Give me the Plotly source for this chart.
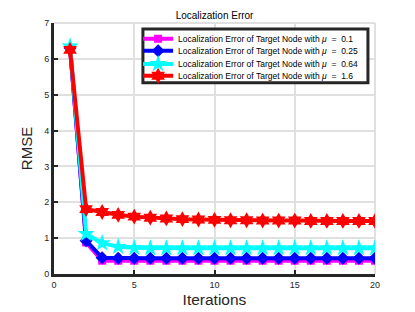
import plotly.graph_objects as go

iterations = list(range(1, 21))
err_mu_01 = [6.30, 0.88, 0.37, 0.37, 0.37, 0.37, 0.37, 0.37, 0.37, 0.37,
             0.37, 0.37, 0.37, 0.37, 0.37, 0.37, 0.37, 0.37, 0.37, 0.37]
err_mu_025 = [6.30, 0.93, 0.45, 0.44, 0.44, 0.44, 0.44, 0.44, 0.44, 0.44,
              0.44, 0.44, 0.44, 0.44, 0.44, 0.44, 0.44, 0.44, 0.44, 0.44]
err_mu_064 = [6.35, 1.12, 0.86, 0.76, 0.73, 0.72, 0.72, 0.72, 0.72, 0.72,
              0.72, 0.72, 0.72, 0.72, 0.72, 0.72, 0.72, 0.72, 0.72, 0.72]
err_mu_16 = [6.25, 1.81, 1.73, 1.65, 1.60, 1.57, 1.55, 1.53, 1.52, 1.51,
             1.50, 1.50, 1.49, 1.49, 1.49, 1.48, 1.48, 1.48, 1.48, 1.48]

mu_labels = ["0.1", "0.25", "0.64", "1.6"]
NB = "&nbsp;"
series = [
    (err_mu_01, "#ff00ff", "square", 8),
    (err_mu_025, "#0000ff", "diamond", 10),
    (err_mu_064, "#00ffff", "star", 13),
    (err_mu_16, "#ff0000", "hexagram", 12),
]
legend_names = ["legend", "legend2", "legend3", "legend4"]
legend_rows = [0.937, 0.889, 0.837, 0.790]

FONT = "Liberation Sans, Arial, sans-serif"

fig = go.Figure()
for (vals, color, sym, size), mu, lg in zip(series, mu_labels, legend_names):
    name = f"Localization Error of Target Node with{NB}<i>μ</i>{NB}{NB}={NB}{NB}{mu}"
    fig.add_trace(go.Scatter(
        x=iterations, y=vals, name=name, mode="lines+markers",
        line=dict(color=color, width=4),
        marker=dict(symbol=sym, size=size, color=color, line=dict(width=0)),
        legend=lg,
    ))

axis_font = dict(family=FONT, size=9, color="#262626")
layout_legends = {}
for lg, yc in zip(legend_names, legend_rows):
    layout_legends[lg] = dict(
        x=0.262, y=yc, xanchor="left", yanchor="middle",
        bgcolor="rgba(0,0,0,0)", borderwidth=0,
        font=dict(family=FONT, size=8.5, color="black"),
        itemwidth=30,
    )

fig.update_layout(
    width=415, height=312,
    margin=dict(l=54, r=40, t=23, b=38, autoexpand=False),
    paper_bgcolor="white", plot_bgcolor="white",
    title=dict(text="Localization Error", x=0.517, xanchor="center", y=0.95, yanchor="middle",
               font=dict(family=FONT, size=10, color="black")),
    xaxis=dict(range=[0, 20], dtick=5, showgrid=True, gridcolor="#e0e0e0", gridwidth=2,
               zeroline=False, showline=True, linecolor="#262626", linewidth=3,
               ticks="inside", ticklen=4, tickwidth=2, tickcolor="#262626",
               tickfont=axis_font, automargin=False,
               title=dict(text="Iterations", standoff=6,
                          font=dict(family=FONT, size=15.5, color="#262626"))),
    yaxis=dict(range=[0, 7], dtick=1, showgrid=True, gridcolor="#e0e0e0", gridwidth=2,
               zeroline=False, showline=True, linecolor="#262626", linewidth=3,
               ticks="inside", ticklen=4, tickwidth=2, tickcolor="#262626",
               tickfont=axis_font, automargin=False,
               title=dict(text="RMSE", standoff=8,
                          font=dict(family=FONT, size=15, color="#262626"))),
    showlegend=True,
    **layout_legends,
)
fig.add_shape(type="line", xref="paper", yref="paper", x0=0, x1=1, y0=1, y1=1,
              line=dict(color="#e0e0e0", width=2), layer="below")
fig.add_shape(type="line", xref="paper", yref="paper", x0=1, x1=1, y0=0, y1=1,
              line=dict(color="#e0e0e0", width=2), layer="below")
fig.add_shape(type="rect", xref="paper", yref="paper", x0=0.277, x1=0.978, y0=0.762, y1=0.976,
              line=dict(color="#262626", width=3), fillcolor="white", layer="above")
fig.write_html("out.html", config={"displayModeBar": False},
               post_script="document.body.style.margin='0';document.body.style.padding='0';")
